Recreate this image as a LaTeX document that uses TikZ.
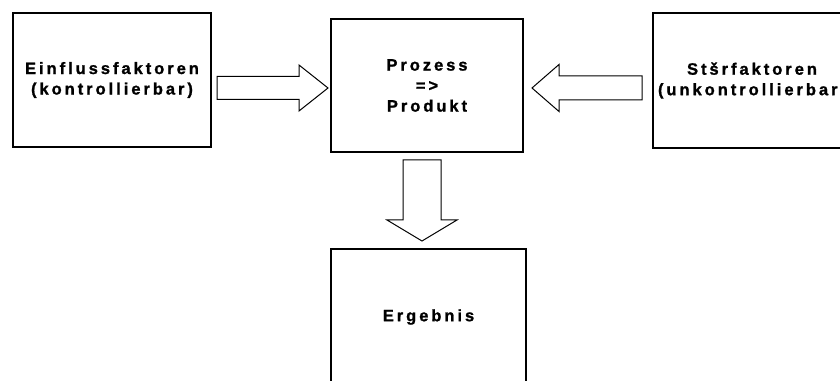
\documentclass[tikz,border=0pt]{standalone}
\usepackage{fontspec}
\setmainfont{Liberation Sans}
\newfontfamily\kastenschrift{Liberation Sans}[LetterSpace = 18, FakeBold = 1.2]
\usetikzlibrary{calc}

\tikzset{
    kasten/.style = {draw, line width = 2pt, inner sep = 0pt, align = center,
        font = \kastenschrift\fontsize{16.5}{20.5}\selectfont\bfseries},
    pfeil/.style = {draw, line width = 1pt, line join = miter}
}

\begin{document}
\begin{tikzpicture}[x = 1pt, y = 1pt]
                    \useasboundingbox (0, 0) rectangle (840, 380);

                    \node[kasten, minimum width = 198, minimum height = 134] (einfluss) at (112, 300)
                        {Einflussfaktoren\\(kontrollierbar)};
                    \node[kasten, minimum width = 192, minimum height = 133] (prozess) at (427, 294.5)
                        {Prozess\\=>\\Produkt};
                    \node[kasten, minimum width = 198, minimum height = 135] (stoer) at (752, 299.5)
                        {Stšrfaktoren\\(unkontrollierbar)};
                    \node[kasten, minimum width = 195, minimum height = 136] (ergebnis) at (428.5, 63)
                        {Ergebnis};

                    % hohle Pfeile
                    \draw[pfeil]
                        ($(einfluss.east) + (5, -8)$) ++(0, 11.5) -- ++(82, 0) -- ++(0, 11.5)
                        -- ++(29, -23) -- ++(-29, -23) -- ++(0, 11.5) -- ++(-82, 0) -- cycle;
                    \draw[pfeil]
                        ($(stoer.west) + (-10, -7.5)$) ++(0, 12) -- ++(-83, 0) -- ++(0, 11.5)
                        -- ++(-27, -23.5) -- ++(27, -23.5) -- ++(0, 11.5) -- ++(83, 0) -- cycle;
                    \draw[pfeil]
                        ($(prozess.south) + (-5, -7)$) ++(-19, 0) -- ++(0, -60) -- ++(-16, 0)
                        -- ++(35, -21) -- ++(35, 21) -- ++(-16, 0) -- ++(0, 60) -- cycle;
                \end{tikzpicture}
\end{document}
